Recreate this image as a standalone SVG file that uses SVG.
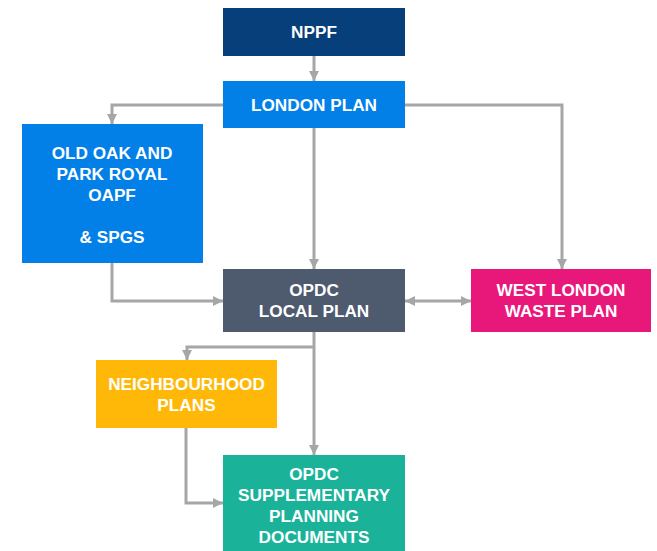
<svg xmlns="http://www.w3.org/2000/svg" width="657" height="551" viewBox="0 0 657 551">
<style>
.t{font-family:"Liberation Sans",Arial,sans-serif;font-weight:bold;font-size:17.2px;fill:#ffffff;text-anchor:middle}
.c{fill:none;stroke:#a6a6a6;stroke-width:3}
</style>
<defs>
<marker id="ah" markerUnits="userSpaceOnUse" markerWidth="10" markerHeight="10" viewBox="0 0 10 10" refX="10" refY="5" orient="auto-start-reverse">
<path d="M0,0 L10,5 L0,10 Z" fill="#a6a6a6"/>
</marker>
</defs>
<rect width="657" height="551" fill="#ffffff"/>
<g id="connectors">
<path class="c" d="M314,56 V81" marker-end="url(#ah)"/>
<path class="c" d="M223,105 H112 V124" marker-end="url(#ah)"/>
<path class="c" d="M314,128 V269" marker-end="url(#ah)"/>
<path class="c" d="M405,105 H562 V269" marker-end="url(#ah)"/>
<path class="c" d="M112,263 V301 H223" marker-end="url(#ah)"/>
<path class="c" d="M405,301 H471" marker-start="url(#ah)" marker-end="url(#ah)"/>
<path class="c" d="M314,332 V455" marker-end="url(#ah)"/>
<path class="c" d="M314,347 H187 V360" marker-end="url(#ah)"/>
<path class="c" d="M186,428 V503 H223" marker-end="url(#ah)"/>
</g>
<g id="nppf">
<rect x="223" y="8" width="182" height="48" fill="#063f7a"/>
<text class="t" x="314" y="38">NPPF</text>
</g>
<g id="london-plan">
<rect x="223" y="81" width="182" height="47" fill="#0280e8"/>
<text class="t" x="314" y="111">LONDON PLAN</text>
</g>
<g id="oapf">
<rect x="22" y="124" width="181" height="139" fill="#0280e8"/>
<text class="t" x="112" y="159">OLD OAK AND</text>
<text class="t" x="112" y="180">PARK ROYAL</text>
<text class="t" x="112" y="201">OAPF</text>
<text class="t" x="112" y="243">&amp; SPGS</text>
</g>
<g id="local-plan">
<rect x="223" y="269" width="182" height="63" fill="#4e5a6e"/>
<text class="t" x="314" y="296">OPDC</text>
<text class="t" x="314" y="317">LOCAL PLAN</text>
</g>
<g id="west-london-waste-plan">
<rect x="471" y="269" width="180" height="63" fill="#e8177a"/>
<text class="t" x="561" y="296">WEST LONDON</text>
<text class="t" x="561" y="317">WASTE PLAN</text>
</g>
<g id="neighbourhood-plans">
<rect x="96" y="360" width="181" height="68" fill="#ffb808"/>
<text class="t" x="186.5" y="390">NEIGHBOURHOOD</text>
<text class="t" x="186.5" y="411">PLANS</text>
</g>
<g id="spd">
<rect x="223" y="455" width="182" height="96" fill="#1ab39a"/>
<text class="t" x="314" y="480">OPDC</text>
<text class="t" x="314" y="501">SUPPLEMENTARY</text>
<text class="t" x="314" y="522">PLANNING</text>
<text class="t" x="314" y="543">DOCUMENTS</text>
</g>
</svg>
